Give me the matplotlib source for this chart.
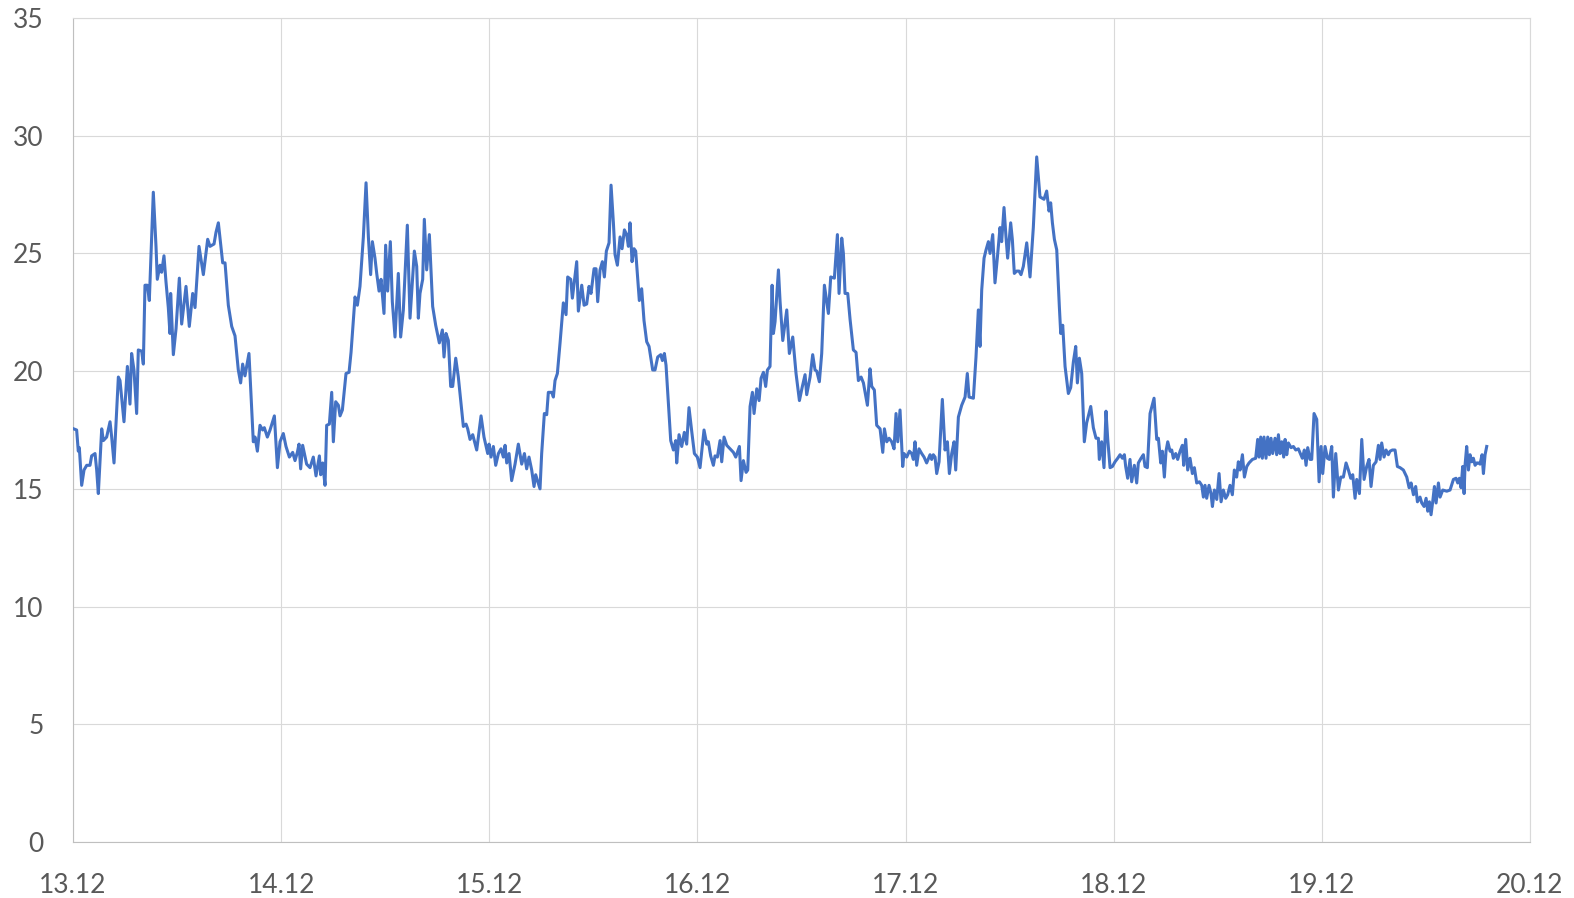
# Temperaturverlauf 13.12 - 20.12

import matplotlib.pyplot as plt

# Zeit in Stunden ab 13.12 00:00
stunden = [
    # 13.12
    0, 0.42, 0.61, 0.73, 1.0, 1.27, 1.58, 1.96, 2.15, 2.54, 2.73, 2.92, 3.31, 3.5, 3.88,
    4.27, 4.46, 4.73, 5.23, 5.42, 5.88, 6.27, 6.57, 6.76, 7.03, 7.34, 7.53, 7.92, 8.11,
    8.3, 8.57, 8.8, 9.26, 9.57, 9.72, 10.03, 10.22, 10.49, 10.72, 10.99, 11.18, 11.26,
    11.57, 11.88, 12.26, 12.53, 13.03, 13.41, 13.8, 14.07, 14.53, 15.03, 15.53, 15.8,
    16.26, 16.49, 16.76, 17.26, 17.53, 17.91, 18.3, 18.68, 19.06, 19.33, 19.56, 19.83,
    20.29, 20.79, 20.99, 21.26, 21.56, 21.87, 22.06, 22.41, 22.72, 23.22, 23.57, 23.87,
    # 14.12
    24.25, 24.56, 24.95, 25.33, 25.6, 25.87, 26.06, 26.25, 26.48, 26.94, 27.33, 27.71,
    28.02, 28.41, 28.56, 28.79, 29.06, 29.25, 29.56, 29.83, 30.02, 30.29, 30.6, 30.79,
    31.06, 31.48, 31.83, 32.06, 32.52, 32.79, 33.09, 33.48, 33.79, 34.06, 34.32, 34.52,
    34.82, 35.02, 35.29, 35.52, 35.86, 36.05, 36.28, 36.59, 36.82, 37.13, 37.51, 37.78,
    38.09, 38.55, 38.86, 39.36, 39.63, 39.82, 40.01, 40.32, 40.51, 40.78, 41.09, 41.47,
    41.82, 42.24, 42.59, 42.78, 43.01, 43.28, 43.55, 43.78, 44.13, 44.43, 45.01, 45.32,
    45.51, 45.78, 46.09, 46.55, 47.05, 47.39,
    # 15.12
    47.82, 47.97, 48.2, 48.47, 48.74, 49.05, 49.35, 49.62, 49.82, 50.01, 50.28, 50.58,
    50.97, 51.35, 51.74, 52.05, 52.31, 52.58, 52.89, 53.16, 53.35, 53.85, 54.04, 54.35,
    54.62, 54.81, 55.2, 55.39, 55.58, 55.85, 56.16, 56.54, 56.85, 57.04, 57.39, 57.58,
    58.08, 58.27, 58.66, 58.93, 59.23, 59.5, 59.73, 60.08, 60.31, 60.5, 60.77, 61.04,
    61.27, 61.5, 61.81, 62.04, 62.31, 62.5, 62.77, 63.08, 63.31, 63.58, 63.84, 64.04,
    64.23, 64.46, 64.69, 64.88, 65.3, 65.57, 65.84, 66.15, 66.42, 66.84, 67.11, 67.42,
    67.77, 67.96, 68.19, 68.38, 68.92, 69.23, 69.5, 69.61, 69.88, 70.19, 70.49, 70.76,
    71.03, 71.34, 71.65, 71.99, 72.3,
    # 16.12
    72.76, 73.07, 73.26, 73.53, 73.84, 74.03, 74.3, 74.61, 74.8, 75.07, 75.38, 75.76,
    76.15, 76.42, 76.84, 77.03, 77.3, 77.61, 77.8, 78.07, 78.34, 78.53, 78.84, 79.11,
    79.34, 79.61, 79.87, 80.07, 80.37, 80.61, 80.76, 80.95, 81.34, 81.53, 81.84, 82.3,
    82.6, 82.99, 83.37, 83.76, 84.1, 84.41, 84.6, 84.99, 85.29, 85.56, 85.76, 86.06,
    86.33, 86.64, 87.1, 87.37, 87.79, 88.14, 88.33, 88.64, 88.83, 89.02, 89.33, 89.6,
    89.98, 90.29, 90.56, 90.87, 91.14, 91.6, 91.9, 92.1, 92.4, 92.67, 93.06, 93.37,
    93.56, 93.83, 94.1, 94.4, 94.67, 94.9, 95.1, 95.36,
    # 17.12
    95.67, 95.82, 96.13, 96.44, 96.71, 96.9, 97.09, 97.28, 97.55, 97.86, 98.13, 98.43,
    98.82, 99.01, 99.2, 99.4, 99.59, 99.86, 100.24, 100.55, 100.82, 101.05, 101.32,
    101.59, 101.78, 102.09, 102.47, 102.86, 103.12, 103.32, 103.82, 104.12, 104.39,
    104.58, 104.78, 105.05, 105.28, 105.55, 105.74, 106.05, 106.31, 106.58, 106.89,
    107.08, 107.35, 107.58, 107.77, 108.12, 108.31, 108.54, 108.81, 109.08, 109.31,
    109.58, 109.97, 110.35, 110.73, 111.12, 111.5, 111.96, 112.27, 112.54, 112.73,
    112.93, 113.16, 113.43, 113.73, 113.89, 114.12, 114.39, 114.77, 115.04, 115.35,
    115.62, 115.81, 116.04, 116.31, 116.61, 116.88, 117.35, 117.65, 117.96, 118.23,
    118.34, 118.61, 118.88, 119.11,
    # 18.12
    119.31, 119.58, 119.85, 120.15, 120.46, 120.73, 121.0, 121.23, 121.38, 121.61,
    121.88, 122.07, 122.38, 122.65, 122.84, 123.15, 123.42, 123.61, 123.88, 124.19,
    124.65, 124.96, 125.15, 125.42, 125.61, 125.84, 126.03, 126.23, 126.5, 126.69,
    126.88, 127.15, 127.38, 127.65, 127.92, 128.07, 128.3, 128.53, 128.8, 129.07,
    129.3, 129.57, 129.88, 130.15, 130.34, 130.53, 130.72, 130.99, 131.22, 131.38,
    131.61, 131.88, 132.15, 132.38, 132.64, 132.91, 133.14, 133.41, 133.68, 133.91,
    134.18, 134.37, 134.57, 134.84, 135.07, 135.34, 135.6, 135.99, 136.37, 136.6,
    136.76, 136.95, 137.14, 137.33, 137.56, 137.76, 137.95, 138.14, 138.33, 138.6,
    138.79, 138.99, 139.18, 139.37, 139.6, 139.76, 139.95, 140.14, 140.45, 140.72,
    140.99, 141.29, 141.52, 141.75, 141.98, 142.18, 142.37, 142.64, 142.83,
    # 19.12
    143.1, 143.41, 143.68, 143.91, 144.1, 144.37, 144.64, 144.87, 145.14, 145.33,
    145.6, 145.91, 146.18, 146.48, 146.79, 147.06, 147.33, 147.56, 147.83, 148.02,
    148.33, 148.6, 148.87, 149.17, 149.44, 149.67, 149.94, 150.25, 150.52, 150.71,
    150.9, 151.17, 151.4, 151.67, 151.86, 152.13, 152.44, 152.71, 153.02, 153.4,
    153.79, 154.06, 154.29, 154.56, 154.82, 155.02, 155.32, 155.52, 155.79, 156.02,
    156.21, 156.4, 156.59, 156.78, 156.98, 157.17, 157.44, 157.63, 157.94, 158.4,
    158.78, 159.17, 159.47, 159.67, 159.86, 160.05, 160.24, 160.4, 160.51, 160.7,
    160.9, 161.09, 161.28, 161.47, 161.67, 161.86, 162.05, 162.24, 162.47, 162.63,
    162.82, 163.01,
]

temperaturen = [
    # 13.12
    17.56, 17.5, 16.6, 16.75, 15.15, 15.8, 16.0, 16.0, 16.4, 16.5, 15.8, 14.8, 17.55, 17.05, 17.2,
    17.85, 17.2, 16.1, 19.75, 19.6, 17.85, 20.2, 18.6, 20.75, 20.05, 18.2, 20.9, 20.85, 20.3,
    23.65, 23.65, 23.0, 27.6, 25.3, 23.9, 24.5, 24.2, 24.9, 23.8, 22.7, 21.6, 23.3,
    20.7, 21.8, 23.95, 22.0, 23.6, 21.9, 23.3, 22.7, 25.3, 24.1, 25.6, 25.3,
    25.4, 25.9, 26.3, 24.6, 24.6, 22.8, 21.9, 21.5, 20.05, 19.5, 20.3, 19.8,
    20.75, 17.0, 17.2, 16.6, 17.7, 17.5, 17.6, 17.2, 17.5, 18.1, 15.9, 17.0,
    # 14.12
    17.35, 16.8, 16.35, 16.55, 16.2, 16.55, 16.9, 15.85, 16.85, 16.05, 15.9, 16.35,
    15.55, 16.4, 15.6, 16.1, 15.15, 17.7, 17.75, 19.1, 17.0, 18.7, 18.55, 18.1,
    18.35, 19.9, 19.95, 20.8, 23.15, 22.8, 23.6, 25.7, 28.0, 25.7, 24.1, 25.5,
    24.8, 24.15, 23.4, 23.9, 22.45, 25.35, 23.4, 25.5, 22.95, 21.45, 24.15, 21.45,
    22.6, 26.2, 22.25, 25.1, 24.45, 22.25, 23.3, 23.9, 26.45, 24.3, 25.8, 22.75,
    21.95, 21.2, 21.75, 20.6, 21.6, 21.3, 19.35, 19.35, 20.55, 19.75, 17.65, 17.75,
    17.55, 17.1, 17.3, 16.65, 18.1, 17.2,
    # 15.12
    16.5, 16.9, 16.35, 16.8, 16.0, 16.5, 16.7, 16.35, 16.85, 16.1, 16.5, 15.35,
    16.05, 16.9, 16.05, 16.5, 15.85, 16.35, 15.8, 15.1, 15.6, 15.0, 16.5, 18.2,
    18.15, 19.1, 19.1, 18.9, 19.6, 19.9, 21.2, 22.9, 22.4, 24.0, 23.9, 23.1,
    24.65, 22.55, 23.65, 22.8, 22.85, 23.6, 23.3, 24.35, 24.35, 22.95, 24.3, 24.65,
    24.0, 25.1, 25.45, 27.9, 26.3, 24.95, 24.5, 25.7, 25.2, 26.0, 25.8, 25.3,
    26.3, 24.65, 25.2, 25.1, 23.0, 23.5, 22.15, 21.25, 21.05, 20.05, 20.05, 20.6,
    20.7, 20.45, 20.75, 20.25, 17.05, 16.65, 17.05, 16.1, 17.3, 16.8, 17.4, 16.9,
    18.45, 17.45, 16.5, 16.35, 15.9,
    # 16.12
    17.5, 16.9, 17.0, 16.4, 16.0, 16.4, 16.35, 17.05, 16.15, 17.2, 16.85, 16.7,
    16.55, 16.35, 16.8, 15.35, 16.2, 15.7, 15.8, 18.5, 19.1, 18.2, 19.25, 18.75,
    19.7, 19.95, 19.35, 20.05, 20.2, 23.65, 21.6, 22.1, 24.3, 22.95, 21.3, 22.6,
    20.75, 21.45, 19.9, 18.75, 19.35, 19.85, 19.0, 19.75, 20.7, 20.05, 20.0, 19.55,
    20.75, 23.65, 22.45, 24.0, 23.95, 25.8, 23.3, 25.65, 25.0, 23.3, 23.3, 22.2,
    20.9, 20.8, 19.6, 19.75, 19.5, 18.55, 20.1, 19.35, 19.2, 17.7, 17.55, 16.55,
    17.55, 17.0, 17.15, 17.0, 16.7, 18.2, 17.0, 18.35,
    # 17.12
    15.95, 16.5, 16.35, 16.6, 16.5, 16.25, 17.0, 16.0, 16.7, 16.5, 16.35, 16.1,
    16.45, 16.25, 16.45, 16.35, 15.65, 16.15, 18.8, 16.65, 17.0, 15.65, 16.5,
    17.0, 15.8, 18.05, 18.55, 18.9, 19.9, 18.9, 18.85, 20.6, 22.6,
    21.05, 23.45, 24.8, 25.15, 25.5, 25.0, 25.8, 23.75, 24.8, 26.1,
    25.5, 26.95, 25.7, 24.8, 26.3, 25.6, 24.15, 24.25, 24.25, 24.1,
    24.45, 25.45, 24.0, 26.1, 29.1, 27.4, 27.3, 27.65, 26.8, 27.15,
    26.3, 25.6, 25.15, 22.75, 21.6, 21.95, 20.2, 19.05, 19.3, 20.4,
    21.05, 19.5, 20.55, 19.9, 17.0, 17.8, 18.5, 17.6, 17.15, 17.15,
    16.25, 17.0, 15.9, 18.3,
    # 18.12
    17.1, 15.9, 15.95, 16.15, 16.3, 16.45, 16.3, 16.45, 15.95, 15.45,
    16.25, 15.3, 16.0, 15.25, 16.1, 16.3, 16.45, 15.95, 15.9, 18.2,
    18.85, 17.1, 17.15, 16.1, 16.6, 15.5, 16.6, 17.0, 16.6, 16.65,
    16.3, 16.5, 16.25, 16.6, 16.85, 16.0, 17.1, 15.8, 16.3, 15.65,
    15.9, 15.25, 15.3, 15.15, 14.65, 15.15, 14.6, 15.15, 14.8, 14.25,
    14.95, 14.55, 15.65, 14.45, 14.95, 14.6, 14.75, 15.15, 14.75, 15.8,
    15.5, 16.15, 15.8, 16.45, 15.5, 15.95, 16.1, 16.25, 16.3, 17.1,
    16.35, 17.2, 16.3, 17.2, 16.3, 17.2, 16.45, 17.15, 16.5, 17.15,
    16.45, 17.3, 16.5, 17.0, 16.35, 17.1, 16.45, 16.95, 16.75, 16.8,
    16.65, 16.7, 16.5, 16.3, 16.65, 16.0, 16.75, 16.25, 16.25,
    # 19.12
    18.2, 17.95, 15.3, 16.8, 15.65, 16.8, 16.3, 16.25, 16.8, 14.65,
    16.5, 14.95, 15.5, 15.5, 16.1, 15.8, 15.45, 15.6, 14.6, 15.4,
    14.8, 17.1, 15.4, 15.95, 16.25, 15.1, 16.0, 16.15, 16.85, 16.25,
    16.95, 16.35, 16.65, 16.45, 16.6, 16.65, 16.65, 15.95, 15.9, 15.8,
    15.5, 15.05, 15.25, 14.75, 15.1, 14.45, 14.65, 14.4, 14.25, 14.6,
    14.05, 14.45, 13.9, 14.45, 15.1, 14.4, 15.25, 14.65, 14.95, 14.9,
    14.95, 15.4, 15.45, 15.25, 15.45, 15.05, 15.95, 14.8, 16.0, 16.8,
    15.8, 16.45, 16.15, 16.3, 16.0, 16.1, 16.1, 16.05, 16.45, 15.65,
    16.45, 16.8,
]

tage = ['13.12', '14.12', '15.12', '16.12', '17.12', '18.12', '19.12', '20.12']
y_ticks = [0, 5, 10, 15, 20, 25, 30, 35]

plt.rcParams['font.family'] = ['Lato', 'DejaVu Sans']

fig = plt.figure(figsize=(15.74, 8.98), dpi=100)
ax = fig.add_axes([73 / 1574, 56 / 898, 1457 / 1574, 824 / 898])

ax.plot(stunden, temperaturen, color='#4472C4', linewidth=2.2, zorder=3)

ax.set_xlim(0, 168)
ax.set_ylim(0, 35)
ax.set_xticks([24 * i for i in range(len(tage))])
ax.set_xticklabels(tage)
ax.set_yticks(y_ticks)

ax.grid(True, color='#D9D9D9', linewidth=0.8)
ax.set_axisbelow(True)
for s in ['top', 'right']:
    ax.spines[s].set_color('#D9D9D9')
    ax.spines[s].set_linewidth(0.8)
for s in ['left', 'bottom']:
    ax.spines[s].set_color('#BFBFBF')
    ax.spines[s].set_linewidth(0.8)

ax.tick_params(axis='both', length=0, labelsize=19, labelcolor='#595959')
ax.tick_params(axis='y', pad=21)
ax.tick_params(axis='x', pad=22)

fig.savefig('out.png', dpi=100)
